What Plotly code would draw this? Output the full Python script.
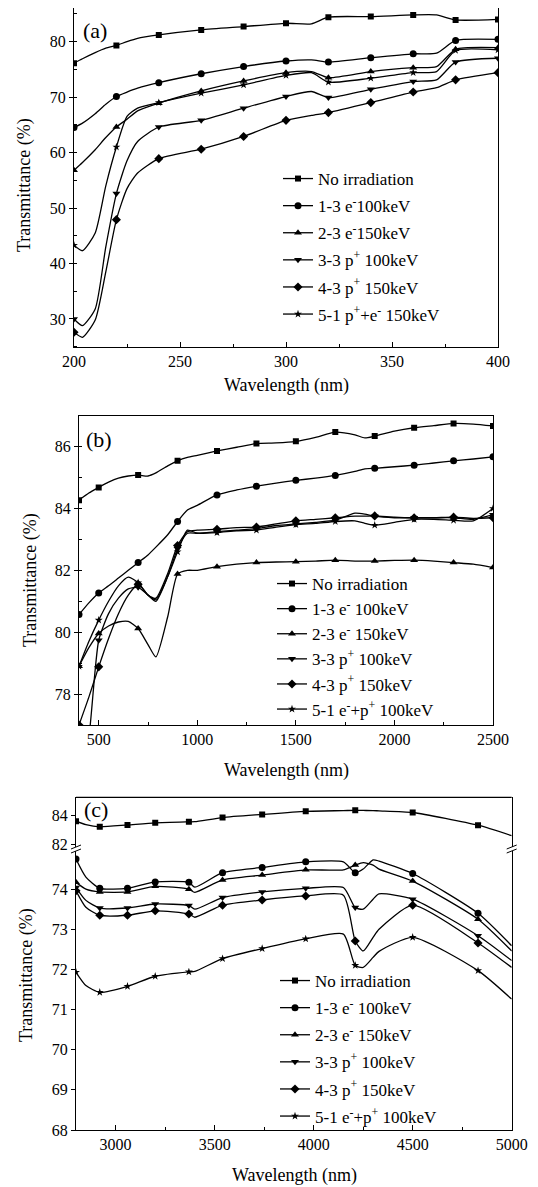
import plotly.graph_objects as go

# the page body adds an 8 px margin, so the figure is 8 px smaller and offset
OFF = 8
W, H = 538 - OFF, 1187 - OFF
FONT = "Liberation Serif, Times New Roman, Times, serif"

# ---------------- Panel (a): 200-400 nm ----------------
WL_A = [200, 204, 210, 215, 220, 225, 230, 240, 260, 280, 300, 312, 320, 340, 360, 371, 380, 400]
MARK_A = [200, 220, 240, 260, 280, 300, 320, 340, 360, 380, 400]
A_NOIRR = [76.1, 76.9, 78.0, 78.8, 79.3, 80.0, 80.6, 81.2, 82.1, 82.7, 83.3, 83.2, 84.4, 84.5, 84.8, 84.8, 83.9, 84.0]
A_13 = [64.5, 65.3, 67.0, 68.7, 70.1, 70.9, 71.6, 72.6, 74.2, 75.5, 76.5, 76.7, 76.3, 77.1, 77.8, 77.9, 80.2, 80.4]
A_23 = [56.8, 58.2, 60.5, 62.7, 64.6, 66.0, 67.5, 68.9, 71.1, 72.9, 74.4, 74.6, 73.5, 74.6, 75.3, 75.5, 78.6, 78.9]
A_33 = [30.0, 28.8, 31.8, 43.0, 52.6, 58.5, 62.0, 64.6, 65.8, 68.0, 70.1, 71.0, 69.9, 71.4, 72.8, 73.1, 76.3, 77.0]
A_43 = [27.6, 26.7, 29.8, 38.5, 47.9, 53.5, 56.3, 58.9, 60.6, 62.9, 65.8, 66.7, 67.2, 69.0, 70.9, 71.7, 73.1, 74.4]
A_51 = [43.3, 42.3, 45.5, 54.0, 61.0, 66.5, 68.0, 69.0, 70.7, 72.2, 73.9, 74.4, 72.7, 73.4, 74.4, 74.6, 78.4, 78.5]
NAMES_A = ["No irradiation", "1-3 e<sup>-</sup>100keV", "2-3 e<sup>-</sup>150keV",
           "3-3 p<sup>+</sup> 100keV", "4-3 p<sup>+</sup> 150keV", "5-1 p<sup>+</sup>+e<sup>-</sup> 150keV"]

# ---------------- Panel (b): 400-2500 nm ----------------
WL_B = [400, 450, 500, 550, 600, 650, 700, 750, 790, 850, 900, 950, 1000, 1100, 1200, 1300, 1400,
        1500, 1600, 1700, 1800, 1850, 1900, 2000, 2100, 2200, 2300, 2400, 2500]
MARK_B = [400, 500, 700, 900, 1100, 1300, 1500, 1700, 1900, 2100, 2300, 2500]
B_NOIRR = [84.27, 84.5, 84.68, 84.85, 84.98, 85.05, 85.08, 85.05, 85.15, 85.38, 85.54, 85.65, 85.72, 85.86,
           85.98, 86.1, 86.12, 86.17, 86.3, 86.47, 86.38, 86.28, 86.34, 86.5, 86.61, 86.68, 86.75, 86.73, 86.67]
B_13 = [80.57, 80.95, 81.27, 81.5, 81.75, 82.0, 82.25, 82.5, 82.75, 83.15, 83.58, 83.95, 84.1, 84.44,
        84.6, 84.72, 84.82, 84.91, 84.98, 85.07, 85.2, 85.28, 85.3, 85.35, 85.4, 85.47, 85.54, 85.6, 85.67]
B_23 = [78.9, 79.5, 79.96, 80.2, 80.33, 80.35, 80.12, 79.6, 79.2, 80.5, 81.88, 82.0, 82.0, 82.12,
        82.2, 82.25, 82.27, 82.28, 82.3, 82.33, 82.3, 82.3, 82.3, 82.32, 82.33, 82.3, 82.25, 82.2, 82.09]
B_33 = [75.0, 76.6, 79.74, 80.6, 81.1, 81.4, 81.45, 81.2, 81.0, 81.8, 82.7, 83.2, 83.2, 83.25,
        83.3, 83.35, 83.45, 83.5, 83.55, 83.62, 83.85, 83.82, 83.75, 83.7, 83.7, 83.7, 83.7, 83.65, 83.8]
B_43 = [77.0, 77.9, 78.88, 79.8, 80.6, 81.2, 81.55, 81.2, 81.1, 81.9, 82.8, 83.25, 83.3, 83.33,
        83.38, 83.4, 83.5, 83.6, 83.65, 83.7, 83.75, 83.75, 83.76, 83.72, 83.7, 83.7, 83.72, 83.68, 83.7]
B_51 = [78.9, 79.7, 80.39, 81.0, 81.5, 81.78, 81.6, 81.2, 81.05, 81.8, 82.6, 83.3, 83.2, 83.22,
        83.28, 83.3, 83.4, 83.48, 83.52, 83.58, 83.6, 83.52, 83.46, 83.55, 83.65, 83.65, 83.62, 83.6, 84.0]
NAMES_B = ["No irradiation", "1-3 e<sup>-</sup> 100keV", "2-3 e<sup>-</sup> 150keV",
           "3-3 p<sup>+</sup> 100keV", "4-3 p<sup>+</sup> 150keV", "5-1 e<sup>-</sup>+p<sup>+</sup> 100keV"]

# ---------------- Panel (c): 2800-5000 nm ----------------
WL_C = [2800, 2850, 2920, 3060, 3200, 3370, 3400, 3540, 3740, 3960, 4150, 4210, 4250, 4300, 4330, 4500, 4830, 5000]
MARK_C = [2800, 2920, 3060, 3200, 3370, 3540, 3740, 3960, 4210, 4500, 4830]
C_NOIRR = [83.58, 83.35, 83.2, 83.33, 83.47, 83.54, 83.55, 83.83, 84.04, 84.25, 84.3, 84.32, 84.31, 84.3, 84.28, 84.17, 83.31, 82.6]
C_13 = [74.75, 74.3, 74.02, 74.02, 74.18, 74.17, 74.05, 74.41, 74.54, 74.68, 74.68, 74.41, 74.5, 74.73, 74.7, 74.39, 73.40, 72.59]
C_23 = [74.17, 74.0, 73.93, 73.93, 74.07, 74.0, 73.92, 74.23, 74.35, 74.48, 74.48, 74.6, 74.66, 74.6, 74.5, 74.2, 73.25, 72.46]
C_33 = [74.04, 73.72, 73.53, 73.53, 73.63, 73.59, 73.5, 73.79, 73.93, 74.02, 74.04, 73.54, 73.5, 73.75, 73.88, 73.75, 72.84, 72.22]
C_43 = [73.96, 73.55, 73.35, 73.35, 73.46, 73.38, 73.3, 73.6, 73.73, 73.83, 73.85, 72.71, 72.46, 72.8, 73.0, 73.6, 72.66, 72.05]
C_51 = [71.93, 71.6, 71.43, 71.58, 71.83, 71.94, 71.95, 72.27, 72.52, 72.76, 72.88, 72.1, 72.05, 72.3, 72.45, 72.8, 71.97, 71.26]
NAMES_C = NAMES_B

SYMBOLS = ["square", "circle", "triangle-up", "triangle-down", "diamond", "star"]
SIZES = [6, 7, 7, 7, 7, 6]


def px(xp):
    return (xp - OFF) / W


def py(yp):
    return 1 - (yp - OFF) / H


fig = go.Figure()


def add_series(x, y, marks, xa, ya, name, k, legend):
    fig.add_trace(go.Scatter(x=x, y=y, mode="lines", xaxis=xa, yaxis=ya, showlegend=False,
                             line=dict(color="black", width=1.3, shape="spline", smoothing=0.6),
                             hoverinfo="skip"))
    xm = [a for a in x if a in marks]
    ym = [b for a, b in zip(x, y) if a in marks]
    fig.add_trace(go.Scatter(x=xm, y=ym, mode="markers", xaxis=xa, yaxis=ya, showlegend=False,
                             marker=dict(symbol=SYMBOLS[k], size=SIZES[k], color="black")))
    fig.add_trace(go.Scatter(x=[None], y=[None], mode="lines+markers", xaxis=xa, yaxis=ya,
                             name=name, legend=legend, legendgroup=legend + str(k),
                             line=dict(color="black", width=1.3),
                             marker=dict(symbol=SYMBOLS[k], size=SIZES[k], color="black")))


for k, ys in enumerate([A_NOIRR, A_13, A_23, A_33, A_43, A_51]):
    add_series(WL_A, ys, MARK_A, "x", "y", NAMES_A[k], k, "legend")
for k, ys in enumerate([B_NOIRR, B_13, B_23, B_33, B_43, B_51]):
    add_series(WL_B, ys, MARK_B, "x2", "y2", NAMES_B[k], k, "legend2")
for k, ys in enumerate([C_NOIRR, C_13, C_23, C_33, C_43, C_51]):
    add_series(WL_C, ys, MARK_C, "x3", "y3" if k == 0 else "y4", NAMES_C[k], k, "legend3")

tickfont = dict(family=FONT, size=16, color="black")
common_x = dict(showgrid=False, zeroline=False, showline=True, linecolor="black", linewidth=1.2,
                ticks="inside", ticklen=5, tickcolor="black", tickfont=tickfont, automargin=False)
common_y = dict(showgrid=False, zeroline=False, showline=True, linecolor="black", linewidth=1.2,
                mirror=True, ticks="outside", ticklen=4, tickcolor="black", tickfont=tickfont,
                automargin=False)

# panel pixel frames in the reference picture (left, right, top, bottom)
PA = (74, 498, 8.3, 346.7)
PB = (79, 493, 415.7, 725)
PC = (76, 511.7, 797.3, 1130)
C_BREAK = 849

leg_font = dict(family=FONT, size=17, color="black")

fig.update_layout(
    template="none",
    width=W, height=H, margin=dict(l=0, r=0, t=0, b=0, pad=0, autoexpand=False),
    paper_bgcolor="white", plot_bgcolor="white",
    font=dict(family=FONT, color="black"),
    xaxis=dict(common_x, domain=[px(PA[0]), px(PA[1])], anchor="y", range=[200, 400],
               tick0=200, dtick=50, mirror=True,
               minor=dict(ticks="inside", ticklen=3, dtick=25, tickcolor="black")),
    yaxis=dict(common_y, domain=[py(PA[3]), py(PA[2])], anchor="x", range=[25, 86],
               tick0=0, dtick=10, minor=dict(ticks="inside", ticklen=3, dtick=5, tickcolor="black")),
    xaxis2=dict(common_x, domain=[px(PB[0]), px(PB[1])], anchor="y2", range=[400, 2500],
                tick0=0, dtick=500, mirror=True,
                minor=dict(ticks="inside", ticklen=3, dtick=250, tickcolor="black")),
    yaxis2=dict(common_y, domain=[py(PB[3]), py(PB[2])], anchor="x2", range=[77, 87],
                tick0=0, dtick=2, minor=dict(ticks="inside", ticklen=3, dtick=1, tickcolor="black")),
    xaxis3=dict(common_x, domain=[px(PC[0]), px(PC[1])], anchor="y4", range=[2800, 5000],
                tick0=0, dtick=500, minor=dict(ticks="inside", ticklen=3, dtick=250, tickcolor="black")),
    yaxis3=dict(common_y, domain=[py(C_BREAK), py(PC[2])], anchor="x3", range=[81.7, 85.2],
                tickvals=[82, 84]),
    yaxis4=dict(common_y, domain=[py(PC[3]), py(C_BREAK)], anchor="x3", range=[68, 75],
                tickvals=[68, 69, 70, 71, 72, 73, 74]),
    legend=dict(x=px(278), y=py(161), xanchor="left", yanchor="top", font=leg_font,
                bgcolor="rgba(0,0,0,0)", tracegroupgap=2, borderwidth=0),
    legend2=dict(x=px(272), y=py(566), xanchor="left", yanchor="top", font=leg_font,
                 bgcolor="rgba(0,0,0,0)", tracegroupgap=0, borderwidth=0),
    legend3=dict(x=px(275), y=py(963), xanchor="left", yanchor="top", font=leg_font,
                 bgcolor="rgba(0,0,0,0)", tracegroupgap=2, borderwidth=0),
)

title_font = dict(family=FONT, size=18, color="black")
ann = []
for (txt, xp_, yp_) in [("(a)", 95, 30), ("(b)", 99, 440), ("(c)", 96, 809)]:
    ann.append(dict(text=txt, x=px(xp_), y=py(yp_), xref="paper", yref="paper", showarrow=False,
                    xanchor="center", yanchor="middle",
                    font=dict(family=FONT, size=22, color="black")))
for (xp_, yp_) in [(286, 385), (286, 770), (294, 1175)]:
    ann.append(dict(text="Wavelength (nm)", x=px(xp_), y=py(yp_), xref="paper", yref="paper",
                    xanchor="center", yanchor="middle", showarrow=False, font=title_font))
for (xp_, yp_) in [(24, 185), (30, 580), (27, 975)]:
    ann.append(dict(text="Transmittance (%)", x=px(xp_), y=py(yp_), xref="paper", yref="paper",
                    xanchor="center", yanchor="middle", showarrow=False, textangle=-90,
                    font=title_font))
fig.update_layout(annotations=ann)

shapes = [dict(type="line", xref="paper", yref="paper", x0=px(PC[0]), x1=px(PC[1]),
               y0=py(PC[2]), y1=py(PC[2]), line=dict(color="black", width=1.2))]
for xb in (PC[0], PC[1]):
    shapes.append(dict(type="rect", xref="paper", yref="paper", x0=px(xb - 2), x1=px(xb + 2),
                       y0=py(C_BREAK + 2), y1=py(C_BREAK - 2), line=dict(width=0), fillcolor="white"))
    for dy in (-2, 2):
        shapes.append(dict(type="line", xref="paper", yref="paper", x0=px(xb - 5), x1=px(xb + 5),
                           y0=py(C_BREAK + dy + 2), y1=py(C_BREAK + dy - 2),
                           line=dict(color="black", width=1)))
fig.update_layout(shapes=shapes)

fig.write_html("out.html")
